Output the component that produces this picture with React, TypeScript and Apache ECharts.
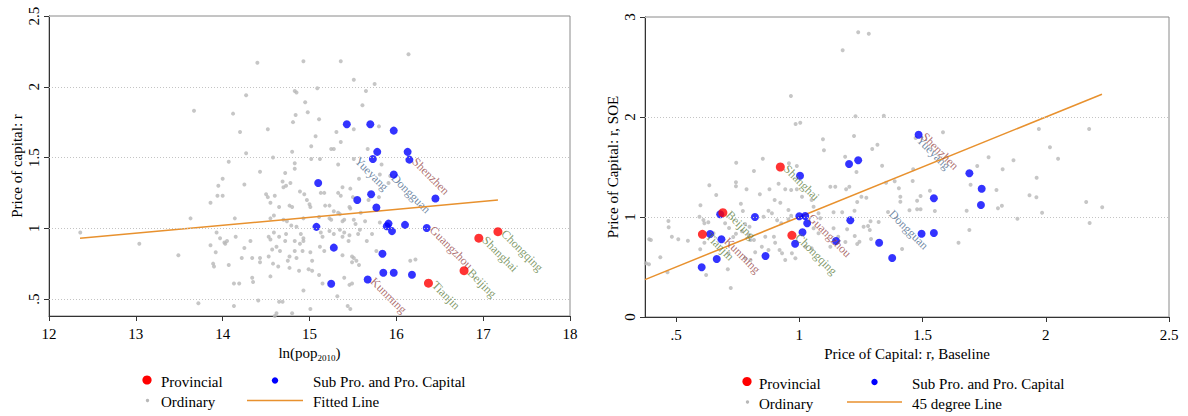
import React, { useEffect, useRef } from "react";
import * as echarts from "echarts";

type LPt = [number, number, string];

const FONT = "Liberation Serif";

// ---------- tick values ----------
const leftXTicks = [12, 13, 14, 15, 16, 17, 18];
const leftYTicks = [0.5, 1, 1.5, 2, 2.5];
const rightXTicks = [0.5, 1, 1.5, 2, 2.5];
const rightYTicks = [0, 1, 2, 3];

// ---------- left panel: ln(pop2010) vs price of capital ----------
const leftProvincial: LPt[] = [
  [17.17, 0.976, "Chongqing"],
  [16.95, 0.93, "Shanghai"],
  [16.78, 0.7, "Beijing"],
  [16.37, 0.612, "Tianjin"],
];

const leftSubCapital: LPt[] = [
  [15.43, 1.735, ""], [15.7, 1.735, ""], [15.97, 1.69, ""], [15.78, 1.54, ""],
  [16.13, 1.54, ""], [15.73, 1.49, ""], [16.15, 1.485, "Shenzhen"], [15.97, 1.38, ""],
  [15.1, 1.32, ""], [16.45, 1.21, ""], [15.55, 1.2, ""], [15.71, 1.24, ""],
  [15.77, 1.147, ""], [15.08, 1.01, ""], [15.91, 1.033, ""], [15.89, 1.014, ""],
  [15.95, 0.98, ""], [16.1, 1.024, ""], [16.35, 1.002, "Guangzhou"], [15.28, 0.863, ""],
  [15.84, 0.82, ""], [15.85, 0.686, ""], [15.97, 0.686, ""], [16.18, 0.672, ""],
  [15.25, 0.608, ""], [15.67, 0.638, "Kunming"],
];

const leftOrdinaryLabeled: LPt[] = [
  [15.51, 1.49, "Yueyang"],
  [15.93, 1.37, "Dongguan"],
];

const leftOrdinary: [number, number][] = [
  [12.36, 0.97], [13.04, 0.89], [13.49, 0.81], [13.63, 1.07], [13.67, 1.83], [13.72, 0.47],
  [13.86, 0.88], [13.86, 1.18], [13.89, 0.75], [13.9, 0.73], [13.92, 0.83], [13.93, 0.97],
  [13.94, 1.23], [13.95, 1.3], [13.97, 0.93], [14.0, 1.35], [14.0, 1.23], [14.02, 0.9],
  [14.03, 0.89], [14.05, 0.91], [14.07, 1.47], [14.07, 0.74], [14.12, 1.81], [14.13, 0.61],
  [14.13, 0.45], [14.14, 1.07], [14.15, 0.94], [14.19, 0.61], [14.2, 1.68], [14.22, 0.79],
  [14.25, 1.31], [14.25, 0.86], [14.27, 1.94], [14.27, 1.53], [14.32, 0.91], [14.34, 0.79],
  [14.34, 0.65], [14.35, 0.62], [14.4, 2.17], [14.41, 0.49], [14.43, 1.4], [14.43, 0.79],
  [14.43, 0.76], [14.5, 1.24], [14.52, 1.7], [14.52, 1.22], [14.53, 0.8], [14.53, 0.94],
  [14.55, 1.18], [14.55, 1.07], [14.55, 0.92], [14.55, 0.66], [14.57, 0.85], [14.58, 1.5],
  [14.58, 0.75], [14.59, 1.09], [14.59, 0.97], [14.6, 1.23], [14.6, 0.38], [14.62, 0.87],
  [14.62, 0.4], [14.64, 0.73], [14.65, 1.15], [14.65, 0.94], [14.65, 0.48], [14.66, 0.84],
  [14.69, 1.33], [14.69, 0.48], [14.7, 1.29], [14.7, 1.06], [14.72, 1.39], [14.72, 0.91],
  [14.73, 1.3], [14.73, 0.96], [14.74, 1.05], [14.75, 0.77], [14.77, 0.72], [14.77, 0.8],
  [14.77, 1.16], [14.78, 1.32], [14.79, 1.02], [14.8, 1.54], [14.8, 1.15], [14.8, 0.4],
  [14.81, 1.75], [14.83, 1.97], [14.83, 1.46], [14.83, 1.42], [14.83, 0.91], [14.83, 0.84],
  [14.84, 1.8], [14.85, 1.96], [14.85, 1.01], [14.85, 0.79], [14.88, 0.7], [14.89, 1.26],
  [14.89, 0.89], [14.9, 0.96], [14.92, 0.84], [14.93, 2.18], [14.93, 1.07], [14.93, 0.93],
  [14.93, 0.91], [14.93, 0.56], [14.94, 1.24], [14.95, 1.89], [14.97, 1.2], [14.98, 1.82],
  [14.99, 0.71], [15.0, 1.17], [15.01, 1.15], [15.01, 0.83], [15.01, 0.43], [15.02, 1.58],
  [15.02, 1.49], [15.03, 0.77], [15.03, 0.7], [15.07, 1.65], [15.09, 1.99], [15.11, 1.77],
  [15.11, 1.08], [15.11, 0.67], [15.12, 0.87], [15.12, 1.49], [15.13, 1.25], [15.13, 0.97],
  [15.15, 0.94], [15.15, 0.61], [15.17, 1.25], [15.17, 0.84], [15.18, 1.16], [15.23, 1.16],
  [15.23, 1.07], [15.23, 0.98], [15.25, 1.56], [15.25, 1.06], [15.28, 1.56], [15.28, 1.12],
  [15.28, 0.96], [15.31, 1.68], [15.32, 0.52], [15.33, 1.45], [15.33, 1.25], [15.33, 1.11],
  [15.35, 1.1], [15.35, 0.99], [15.36, 2.18], [15.36, 1.61], [15.36, 1.23], [15.38, 1.29],
  [15.38, 0.94], [15.38, 0.81], [15.38, 1.05], [15.4, 1.06], [15.4, 0.97], [15.4, 0.65],
  [15.44, 0.45], [15.45, 0.91], [15.46, 1.15], [15.46, 0.95], [15.46, 0.6], [15.47, 1.28],
  [15.47, 1.14], [15.47, 0.43], [15.49, 0.8], [15.49, 0.76], [15.49, 0.61], [15.5, 1.22],
  [15.51, 2.05], [15.51, 1.7], [15.51, 1.06], [15.51, 0.79], [15.53, 1.03], [15.54, 0.77],
  [15.56, 0.96], [15.57, 1.35], [15.57, 0.74], [15.58, 0.99], [15.59, 1.11], [15.61, 1.87],
  [15.64, 1.05], [15.65, 1.97], [15.66, 0.91], [15.67, 1.56], [15.68, 1.2], [15.72, 0.96],
  [15.75, 2.02], [15.77, 0.84], [15.8, 1.72], [15.8, 1.22], [15.81, 1.38], [15.81, 1.04],
  [15.83, 1.45], [15.91, 1.32], [16.14, 2.23], [16.16, 0.77], [16.22, 0.78],
];

const leftFitted: [number, number][] = [
  [12.357, 0.929],
  [17.17, 1.199],
];

// ---------- right panel: baseline vs SOE price of capital ----------
const rightProvincial: LPt[] = [
  [0.923, 1.5, "Shanghai"],
  [0.69, 1.043, "Beijing"],
  [0.607, 0.827, "Tianjin"],
  [0.97, 0.817, "Chongqing"],
];

const rightSubCapital: LPt[] = [
  [1.003, 1.413, ""], [0.679, 1.027, ""], [0.82, 1.0, ""], [1.0, 1.007, ""],
  [1.024, 1.01, "Guangzhou"], [1.032, 0.937, ""], [0.638, 0.83, ""], [0.684, 0.777, "Kunming"],
  [1.013, 0.847, ""], [0.983, 0.733, ""], [0.665, 0.58, ""], [0.863, 0.61, ""],
  [0.604, 0.497, ""], [1.484, 1.823, "Shenzhen"], [1.202, 1.53, ""], [1.239, 1.567, ""],
  [1.69, 1.437, ""], [1.74, 1.283, ""], [1.737, 1.12, ""], [1.546, 1.187, ""],
  [1.207, 0.967, ""], [1.149, 0.76, ""], [1.324, 0.743, ""], [1.496, 0.833, ""],
  [1.546, 0.84, ""], [1.377, 0.59, ""],
];

const rightOrdinaryLabeled: LPt[] = [
  [1.472, 1.79, "Yueyang"],
  [1.36, 1.05, "Dongguan"],
];

const rightOrdinary: [number, number][] = [
  [0.966, 2.21], [0.985, 1.93], [1.004, 1.943], [1.096, 1.777], [1.1, 1.667], [0.744, 1.543],
  [0.852, 1.583], [0.816, 1.46], [0.635, 1.317], [0.743, 1.347], [0.743, 1.307], [0.663, 1.22],
  [0.786, 1.277], [0.84, 1.227], [0.879, 1.277], [0.916, 1.333], [0.958, 1.537], [0.99, 1.51],
  [0.943, 1.277], [0.967, 1.27], [0.9, 1.17], [0.923, 1.143], [0.599, 1.117], [0.595, 1.003],
  [0.469, 0.96], [0.47, 0.897], [0.398, 0.77], [0.436, 0.597], [0.39, 0.527], [0.465, 0.447],
  [0.483, 0.803], [0.509, 0.777], [0.548, 0.763], [0.611, 0.97], [0.615, 0.937], [0.598, 0.677],
  [0.615, 0.743], [0.622, 0.42], [0.722, 0.29], [0.713, 0.637], [0.71, 0.477], [0.743, 0.833],
  [0.767, 0.857], [0.732, 0.8], [0.78, 0.93], [0.798, 0.903], [0.795, 0.82], [0.802, 0.77],
  [0.816, 0.77], [0.78, 0.587], [0.802, 0.57], [0.821, 0.647], [0.848, 0.703], [0.862, 0.803],
  [0.897, 0.803], [0.902, 0.743], [0.92, 0.67], [0.93, 0.637], [0.943, 0.57], [0.91, 0.967],
  [0.927, 0.937], [0.875, 1.063], [0.889, 1.037], [0.855, 1.003], [0.763, 1.133], [0.771, 1.06],
  [0.699, 0.937], [0.715, 0.89], [0.631, 0.947], [0.956, 0.977], [0.967, 1.013], [0.956, 1.07],
  [1.05, 1.17], [1.058, 1.103], [1.078, 1.037], [1.085, 0.987], [1.058, 0.887], [1.078, 0.837],
  [1.024, 0.703], [1.05, 0.687], [0.97, 0.637], [0.984, 0.587], [0.875, 0.67], [1.011, 1.203],
  [0.99, 1.277], [0.652, 0.837], [0.378, 0.537], [0.391, 0.777],
  [1.239, 2.847], [1.282, 2.833], [1.176, 2.667], [1.228, 2.007], [1.343, 2.013], [1.222, 1.81],
  [1.583, 1.847], [1.296, 1.68], [1.317, 1.723], [1.186, 1.603], [1.336, 1.513], [1.232, 1.45],
  [1.352, 1.343], [1.387, 1.357], [1.462, 1.477], [1.126, 1.303], [1.146, 1.303], [1.19, 1.277],
  [1.203, 1.303], [1.235, 1.15], [1.252, 1.203], [1.272, 1.193], [1.404, 1.287], [1.46, 1.36],
  [1.41, 1.203], [1.41, 1.153], [1.492, 1.21], [1.478, 1.163], [1.53, 1.263], [1.447, 1.067],
  [1.478, 1.077], [1.492, 1.077], [1.55, 1.06], [1.139, 1.047], [1.174, 1.047], [1.224, 1.063],
  [1.289, 0.957], [1.322, 0.95], [1.261, 0.903], [1.279, 0.91], [1.286, 0.87], [1.194, 0.877],
  [1.225, 0.81], [1.139, 0.887], [1.158, 0.803], [1.126, 0.703], [1.244, 0.753], [1.235, 0.73],
  [1.291, 0.78], [1.187, 0.75], [1.417, 0.68], [1.646, 0.743], [1.69, 0.87], [1.679, 1.063],
  [1.695, 1.323], [1.722, 1.51], [1.768, 1.597], [1.8, 1.27], [1.806, 1.087], [1.822, 1.113],
  [1.825, 1.477], [1.869, 1.567], [1.885, 0.983], [1.934, 1.217], [1.962, 1.197], [1.963, 1.393],
  [1.972, 1.88], [1.985, 1.043], [2.017, 1.697], [2.05, 1.583], [2.164, 1.15], [2.176, 1.88],
  [2.178, 0.94], [2.229, 1.097],
];

const right45: [number, number][] = [
  [0.374, 0.374],
  [2.228, 2.228],
];

// ---------- legend entries ----------
const leftLegendNames = ["Provincial", "Sub Pro. and Pro. Capital", "Ordinary", "Fitted Line"];
const rightLegendNames = ["Provincial", "Sub Pro. and Pro. Capital", "Ordinary", "45 degree Line"];

// ---------- styles ----------
const RED = "#ff0000";
const BLUE = "#0000ff";
const GRAY = "#b8b8b8";
const ORANGE = "#e8912e";
const LBL_PROV = "#62803f";
const LBL_SUB = "#984a4a";
const LBL_ORD = "#4b6a8c";

const fmtTick = (v: number) => String(v).replace(/^0\./, ".");

const mkLabel = (name: string, color: string) => ({
  show: true,
  formatter: name,
  position: "right",
  distance: 1,
  rotate: -45,
  align: "left",
  verticalAlign: "middle",
  color,
  fontFamily: FONT,
  fontSize: 12,
});

const toItems = (pts: LPt[], color: string) =>
  pts.map(([x, y, n]) => (n ? { value: [x, y], label: mkLabel(n, color) } : [x, y]));

const gridLines = (vals: number[]) => ({
  silent: true,
  symbol: ["none", "none"],
  label: { show: false },
  lineStyle: { type: [1, 2], color: "#c4c4c4", width: 1 },
  emphasis: { disabled: true },
  data: vals.map((v) => ({ yAxis: v })),
});

const axisCommon = {
  type: "value",
  axisLine: { show: true, onZero: false, lineStyle: { color: "#333", width: 1 } },
  axisTick: { show: true, length: 5, lineStyle: { color: "#333" } },
  splitLine: { show: false },
  nameTextStyle: { fontFamily: FONT, fontSize: 15, color: "#000" },
};

// legend drawn as graphic: marker + text; ox = column-1 marker x, cx2 = column-2 marker center, etc.
function legendGraphic(
  names: string[],
  m1: number, t1: number, lx0: number, lx1: number, t2: number,
  row1: number, row2: number
) {
  const txt = (x: number, y: number, s: string) => ({
    type: "text", x, y, silent: true,
    style: { text: s, fontFamily: FONT, fontSize: 15, fill: "#000", verticalAlign: "middle", align: "left" },
  });
  return [
    { type: "circle", silent: true, shape: { cx: m1, cy: row1, r: 4.6 }, style: { fill: RED } },
    txt(t1, row1 + 2, names[0]),
    { type: "circle", silent: true, shape: { cx: (lx0 + lx1) / 2, cy: row1 + 0.5, r: 3.2 }, style: { fill: BLUE } },
    txt(t2, row1 + 2, names[1]),
    { type: "circle", silent: true, shape: { cx: m1 + 0.5, cy: row2, r: 1.7 }, style: { fill: GRAY } },
    txt(t1, row2 + 1.5, names[2]),
    {
      type: "line", silent: true, shape: { x1: lx0, y1: row2, x2: lx1, y2: row2 },
      style: { stroke: ORANGE, lineWidth: 1.5 },
    },
    txt(t2, row2 + 1.5, names[3]),
  ];
}

export default function App() {
  const ref = useRef<HTMLDivElement>(null);

  useEffect(() => {
    if (!ref.current) return;
    const chart = echarts.init(ref.current, undefined, { renderer: "svg" });

    const option: any = {
      animation: false,
      backgroundColor: "#fff",
      grid: [
        { left: 49, top: 16, width: 521, height: 300, show: true, borderColor: "#8a8a8a", borderWidth: 1 },
        { left: 645, top: 17, width: 524, height: 300, show: true, borderColor: "#8a8a8a", borderWidth: 1 },
      ],
      xAxis: [
        {
          ...axisCommon,
          gridIndex: 0,
          min: 12,
          max: 18,
          interval: 1,
          axisLabel: { fontFamily: FONT, fontSize: 15, color: "#000", margin: 10, customValues: leftXTicks },
          axisTick: { ...axisCommon.axisTick, customValues: leftXTicks },
          name: "{a|ln(pop}{s|2010}{a|)}",
          nameLocation: "middle",
          nameGap: 26,
          nameTextStyle: {
            rich: {
              a: { fontFamily: FONT, fontSize: 15, color: "#000", lineHeight: 18 },
              s: { fontFamily: FONT, fontSize: 9, color: "#000", lineHeight: 10, verticalAlign: "bottom" },
            },
          },
        },
        {
          ...axisCommon,
          gridIndex: 1,
          min: 0.374,
          max: 2.5,
          axisLabel: {
            fontFamily: FONT, fontSize: 15, color: "#000", margin: 10,
            customValues: rightXTicks, formatter: fmtTick,
          },
          axisTick: { ...axisCommon.axisTick, customValues: rightXTicks },
          name: "Price of Capital: r, Baseline",
          nameLocation: "middle",
          nameGap: 26,
        },
      ],
      yAxis: [
        {
          ...axisCommon,
          gridIndex: 0,
          min: 0.38,
          max: 2.5,
          axisLabel: {
            fontFamily: FONT, fontSize: 15, color: "#000", margin: 8, rotate: 90,
            customValues: leftYTicks, formatter: fmtTick,
          },
          axisTick: { ...axisCommon.axisTick, customValues: leftYTicks },
          name: "Price of capital: r",
          nameLocation: "middle",
          nameRotate: 90,
          nameGap: 25,
        },
        {
          ...axisCommon,
          gridIndex: 1,
          min: 0,
          max: 3,
          axisLabel: {
            fontFamily: FONT, fontSize: 15, color: "#000", margin: 8, rotate: 90,
            customValues: rightYTicks, formatter: fmtTick,
          },
          axisTick: { ...axisCommon.axisTick, customValues: rightYTicks },
          name: "Price of Capital: r, SOE",
          nameLocation: "middle",
          nameRotate: 90,
          nameGap: 25,
        },
      ],
      graphic: [
        ...legendGraphic(leftLegendNames, 147, 161, 247, 303, 313, 380, 400.5),
        ...legendGraphic(rightLegendNames, 747, 759, 847, 902, 912, 381.5, 402),
      ],
      series: [
        // left panel
        {
          name: "Ordinary", type: "scatter", xAxisIndex: 0, yAxisIndex: 0, symbolSize: 4,
          itemStyle: { color: GRAY }, z: 2,
          data: [...leftOrdinary, ...toItems(leftOrdinaryLabeled, LBL_ORD)],
          markLine: gridLines(leftYTicks),
        },
        {
          name: "Fitted Line", type: "line", xAxisIndex: 0, yAxisIndex: 0, symbol: "none", showSymbol: false,
          lineStyle: { color: ORANGE, width: 1.5 }, itemStyle: { color: ORANGE }, z: 3,
          data: leftFitted,
        },
        {
          name: "Sub Pro. and Pro. Capital", type: "scatter", xAxisIndex: 0, yAxisIndex: 0, symbolSize: 8,
          itemStyle: { color: BLUE }, z: 4, data: toItems(leftSubCapital, LBL_SUB),
        },
        {
          name: "Provincial", type: "scatter", xAxisIndex: 0, yAxisIndex: 0, symbolSize: 9,
          itemStyle: { color: RED }, z: 5, data: toItems(leftProvincial, LBL_PROV),
        },
        // right panel
        {
          name: "Ordinary", type: "scatter", xAxisIndex: 1, yAxisIndex: 1, symbolSize: 4,
          itemStyle: { color: GRAY }, z: 2,
          data: [...rightOrdinary, ...toItems(rightOrdinaryLabeled, LBL_ORD)],
          markLine: gridLines(rightYTicks.filter((v) => v > 0)),
        },
        {
          name: "45 degree Line", type: "line", xAxisIndex: 1, yAxisIndex: 1, symbol: "none", showSymbol: false,
          lineStyle: { color: ORANGE, width: 1.5 }, itemStyle: { color: ORANGE }, z: 3,
          data: right45,
        },
        {
          name: "Sub Pro. and Pro. Capital", type: "scatter", xAxisIndex: 1, yAxisIndex: 1, symbolSize: 8,
          itemStyle: { color: BLUE }, z: 4, data: toItems(rightSubCapital, LBL_SUB),
        },
        {
          name: "Provincial", type: "scatter", xAxisIndex: 1, yAxisIndex: 1, symbolSize: 9,
          itemStyle: { color: RED }, z: 5, data: toItems(rightProvincial, LBL_PROV),
        },
      ],
    };

    chart.setOption(option);
    return () => chart.dispose();
  }, []);

  return (
    <div
      ref={ref}
      style={{ position: "absolute", left: 0, top: 0, width: 1188, height: 416, background: "#fff" }}
    />
  );
}
